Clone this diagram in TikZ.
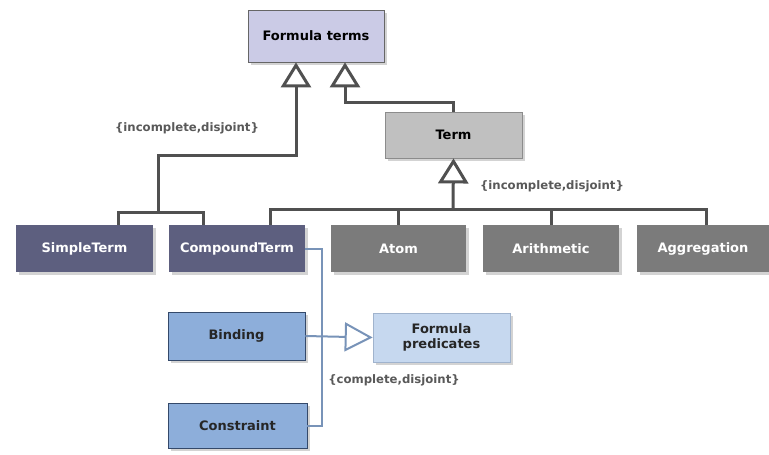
\documentclass[tikz,border=0pt]{standalone}
\usepackage{fontspec}
\setmainfont{DejaVu Sans}
\usetikzlibrary{arrows.meta,shadows}
\definecolor{lavender}{HTML}{CBCBE6}
\definecolor{slate}{HTML}{5D5F7F}
\definecolor{midgray}{HTML}{7B7B7B}
\definecolor{lightgray}{HTML}{C0C0C0}
\definecolor{midblue}{HTML}{8DAEDA}
\definecolor{paleblue}{HTML}{C6D8EF}
\definecolor{linegray}{HTML}{505050}
\definecolor{lineblue}{HTML}{7893B8}
\definecolor{darkblue}{HTML}{34496A}
\tikzset{
  box/.style={minimum height=47pt, minimum width=136pt, inner sep=2pt,
    font=\fontsize{13}{15}\selectfont\bfseries, align=center,
    drop shadow={shadow xshift=3pt, shadow yshift=-3pt, opacity=0.35}},
  topbox/.style={box, fill=lavender, draw=black!60, line width=0.8pt},
  termbox/.style={box, fill=lightgray, draw=black!45, line width=0.8pt},
  darkbox/.style={box, fill=slate, text=white},
  graybox/.style={box, fill=midgray, text=white},
  bluebox/.style={box, fill=midblue, draw=darkblue, line width=0.8pt, text=black!85},
  palebox/.style={box, fill=paleblue, draw=lineblue!70, line width=0.6pt, text=black!85},
  gline/.style={draw=linegray, line width=3pt},
  gen/.style={gline, -{Triangle[open, length=25pt, width=30pt]}},
  bline/.style={draw=lineblue, line width=2pt},
  bgen/.style={bline, -{Triangle[open, length=28pt, width=29pt]}},
  constr/.style={text=black!65, font=\fontsize{11.7}{13}\selectfont\bfseries}
}
\begin{document}
\begin{tikzpicture}[x=1pt,y=-1pt]
\useasboundingbox (0,0) rectangle (769,455);
% boxes
\node[topbox] (ft) at (316,36) [minimum height=52pt] {Formula terms};
\node[termbox] (term) at (453.5,135) [minimum height=46pt, minimum width=137pt] {Term};
\node[darkbox] (simple) at (84.5,248.5) [minimum width=137pt] {SimpleTerm};
\node[darkbox] (compound) at (237,248.5) {CompoundTerm};
\node[graybox] (atom) at (398.5,248.5) [minimum width=135pt] {Atom};
\node[graybox] (arith) at (551,248.5) {Arithmetic};
\node[graybox] (aggr) at (703,248.5) [minimum width=132pt] {Aggregation};
\node[bluebox] (binding) at (236.5,336) [minimum width=137pt, minimum height=48pt] {Binding};
\node[bluebox] (constraint) at (237.5,425.5) [minimum width=139pt, minimum height=45pt] {Constraint};
\node[palebox] (fp) at (441.5,337.5) [minimum width=137pt, minimum height=49pt] {Formula\\predicates};
% labels
\node[constr] (c1) at (187,128) {\{incomplete,disjoint\}};
\node[constr] (c2) at (552,186) {\{incomplete,disjoint\}};
\node[constr] (c3) at (394,380) {\{complete,disjoint\}};
% first generalization
\coordinate (j1) at (158,212);
\draw[gline] ([xshift=33.5]simple.north) |- (j1) -| ([xshift=-34]compound.north);
\draw[gen] (j1) |- (296,155) -- ([xshift=-20]ft.south);
% term to formula terms
\draw[gen] (term.north) -- ++(0,-9) -| ([xshift=29]ft.south);
% second generalization
\coordinate (j2) at (453,209);
\draw[gline] ([xshift=33]compound.north) |- ([xshift=3]aggr.north |- j2) -- ([xshift=3]aggr.north);
\draw[gline] (atom.north) -- (atom.north |- j2);
\draw[gline] (arith.north) -- (arith.north |- j2);
\draw[gen] (j2) -- (term.south);
% formula predicates
\coordinate (b1) at (322,337);
\draw[bline] (compound.east) -| (b1);
\draw[bline] (constraint.east) -| (b1);
\draw[bgen] (binding.east) -- (fp.west);
\end{tikzpicture}
\end{document}
